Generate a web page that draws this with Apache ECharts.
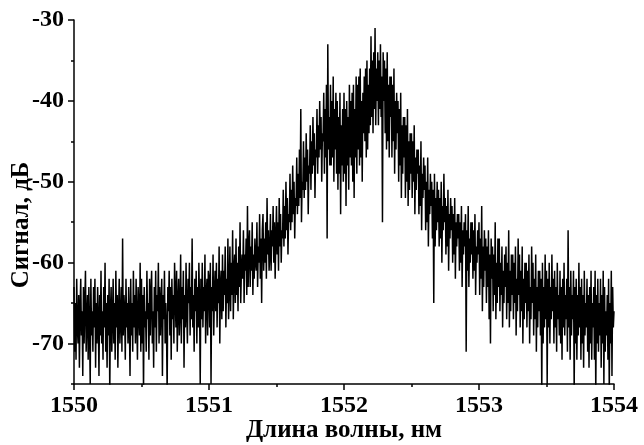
<!DOCTYPE html>
<html>
<head>
<meta charset="utf-8">
<script src="https://cdn.jsdelivr.net/npm/echarts@6/dist/echarts.min.js"></script>
<style>
html,body{margin:0;padding:0;background:#fff;}
#chart{width:644px;height:445px;}
</style>
</head>
<body>
<div id="chart"></div>
<script>
// Wavelength sampling (nm)
const wavelengthStart = 1550;
const wavelengthStep = 0.005;

// Signal values (dB), 0.5 nm per block
const signal1550_0 = [
-63,-71,-65,-72,-62,-68,-70,-64,-73,-66,
-62,-69,-66,-74,-63,-70,-65,-61,-71,-67,
-64,-72,-63,-68,-75,-62,-69,-66,-71,-63,
-68,-62,-73,-65,-70,-63,-67,-74,-64,-69,
-61,-70,-66,-72,-63,-68,-60,-71,-65,-73,
-64,-69,-62,-76,-66,-63,-71,-67,-62,-70,
-65,-72,-61,-68,-64,-73,-66,-62,-70,-67,
-63,-71,-57,-69,-64,-66,-72,-62,-68,-65,
-70,-63,-67,-74,-62,-69,-65,-71,-61,-68,
-64,-70,-62,-67,-72,-63,-66,-69,-60,-71];
const signal1550_5 = [
-62,-70,-64,-76,-63,-68,-66,-71,-61,-67,
-65,-72,-62,-69,-64,-61,-70,-66,-73,-63,
-68,-61,-71,-64,-66,-60,-70,-63,-69,-65,
-62,-74,-64,-67,-61,-70,-65,-68,-76,-63,
-66,-61,-69,-63,-72,-62,-67,-64,-70,-60,
-64,-68,-61,-71,-65,-62,-69,-66,-59,-70,
-63,-67,-61,-73,-64,-68,-60,-66,-70,-62,
-65,-60,-69,-63,-67,-57,-68,-64,-71,-62,
-66,-61,-70,-63,-68,-60,-65,-75,-62,-67,
-60,-68,-63,-66,-59,-70,-64,-62,-69,-61];
const signal1551_0 = [
-62,-68,-60,-75,-63,-66,-59,-69,-64,-61,
-66,-60,-68,-62,-65,-58,-70,-63,-61,-67,
-59,-66,-61,-64,-58,-68,-62,-65,-57,-67,
-63,-58,-66,-60,-64,-56,-67,-61,-59,-65,
-57,-64,-60,-66,-58,-63,-55,-65,-61,-59,
-62,-56,-65,-59,-61,-57,-64,-53,-63,-58,
-56,-63,-58,-61,-55,-64,-59,-62,-57,-60,
-61,-55,-63,-58,-60,-54,-62,-57,-65,-56,
-54,-61,-57,-60,-55,-62,-52,-59,-56,-61,
-59,-54,-61,-56,-58,-53,-60,-55,-62,-57];
const signal1551_5 = [
-53,-59,-55,-61,-52,-58,-54,-60,-56,-57,
-51,-58,-53,-57,-50,-56,-52,-59,-54,-55,
-49,-56,-51,-55,-48,-54,-50,-57,-52,-53,
-47,-54,-49,-53,-46,-52,-41,-55,-50,-51,
-45,-52,-47,-51,-44,-50,-46,-54,-48,-49,
-43,-51,-45,-49,-42,-48,-44,-52,-46,-47,
-41,-49,-43,-47,-40,-46,-42,-50,-44,-45,
-39,-49,-41,-47,-38,-57,-33,-46,-42,-48,
-38,-48,-40,-47,-37,-50,-41,-46,-39,-49,
-40,-51,-42,-49,-39,-54,-43,-48,-41,-50];
const signal1552_0 = [
-39,-49,-41,-53,-40,-48,-42,-51,-38,-47,
-40,-48,-39,-50,-38,-52,-41,-47,-37,-49,
-38,-46,-37,-48,-36,-47,-40,-50,-39,-44,
-37,-45,-36,-47,-35,-46,-38,-44,-36,-43,
-32,-42,-35,-44,-34,-41,-31,-43,-36,-40,
-34,-43,-35,-41,-33,-42,-37,-55,-34,-40,
-35,-44,-36,-46,-34,-45,-38,-47,-37,-42,
-37,-47,-38,-45,-36,-49,-40,-46,-39,-44,
-40,-50,-41,-48,-39,-52,-43,-49,-42,-47,
-42,-52,-43,-50,-41,-53,-45,-51,-44,-49];
const signal1552_5 = [
-44,-52,-45,-50,-43,-54,-47,-51,-46,-49,
-46,-54,-48,-53,-45,-56,-49,-52,-47,-51,
-48,-56,-50,-55,-47,-58,-51,-54,-49,-53,
-50,-57,-51,-65,-49,-58,-52,-56,-50,-55,
-51,-58,-52,-57,-50,-60,-53,-56,-49,-55,
-52,-59,-53,-58,-51,-61,-54,-57,-52,-56,
-53,-60,-54,-59,-52,-62,-55,-58,-54,-57,
-54,-61,-55,-60,-53,-63,-56,-59,-55,-58,
-54,-71,-56,-61,-53,-63,-57,-60,-55,-59,
-55,-62,-56,-61,-54,-64,-58,-60,-56,-59];
const signal1553_0 = [
-55,-64,-57,-62,-53,-66,-58,-63,-56,-61,
-57,-65,-58,-63,-56,-67,-59,-70,-57,-62,
-58,-66,-59,-64,-55,-67,-60,-65,-57,-63,
-57,-66,-60,-64,-58,-68,-61,-65,-59,-63,
-58,-67,-60,-65,-56,-68,-61,-66,-59,-64,
-59,-67,-60,-65,-58,-69,-62,-66,-57,-64,
-59,-68,-61,-66,-58,-70,-62,-67,-60,-65,
-60,-68,-61,-66,-59,-70,-63,-67,-58,-65,
-60,-69,-62,-67,-59,-71,-63,-68,-61,-66,
-61,-69,-62,-76,-60,-70,-63,-68,-59,-67];
const signal1553_5 = [
-61,-75,-62,-68,-60,-70,-63,-67,-59,-66,
-62,-70,-61,-68,-63,-71,-60,-67,-64,-69,
-61,-70,-63,-72,-62,-68,-60,-69,-64,-67,
-62,-71,-56,-68,-63,-72,-61,-69,-64,-67,
-61,-76,-63,-70,-62,-72,-64,-69,-60,-68,
-63,-72,-62,-70,-64,-73,-61,-69,-65,-68,
-62,-71,-64,-73,-63,-70,-61,-72,-65,-68,
-63,-72,-61,-76,-64,-70,-62,-71,-65,-69,
-62,-73,-64,-70,-61,-75,-63,-71,-66,-69,
-64,-72,-62,-76,-65,-70,-61,-74,-63,-68,
-66];

// Axis ticks
const xTicks = [1550, 1551, 1552, 1553, 1554];
const yMajorTicks = [-70, -60, -50, -40, -30];
const yMinorTicks = [-75, -65, -55, -45, -35];

const signal = [].concat(signal1550_0, signal1550_5, signal1551_0, signal1551_5,
  signal1552_0, signal1552_5, signal1553_0, signal1553_5);
const seriesData = signal.map((v, i) => [+(wavelengthStart + i * wavelengthStep).toFixed(3), v]);

const font = 'Liberation Serif, Times New Roman, serif';
const chart = echarts.init(document.getElementById('chart'), null, {renderer: 'canvas'});
chart.setOption({
  animation: false,
  backgroundColor: '#fff',
  grid: {left: 74, right: 30, top: 20, bottom: 61, containLabel: false, outerBoundsMode: 'none'},
  xAxis: {
    type: 'value', min: xTicks[0], max: xTicks[xTicks.length - 1], interval: 1,
    name: 'Длина волны, нм', nameLocation: 'middle', nameGap: 34, nameMoveOverlap: false,
    nameTextStyle: {fontFamily: font, fontWeight: 'bold', fontSize: 25, color: '#000'},
    axisLine: {onZero: false, lineStyle: {color: '#000', width: 1.5}},
    axisTick: {show: true, inside: false, length: 6, lineStyle: {color: '#000', width: 1.5}},
    minorTick: {show: true, splitNumber: 2, length: 3, lineStyle: {color: '#000', width: 1.5}},
    axisLabel: {fontFamily: font, fontWeight: 'bold', fontSize: 24, color: '#000', margin: 10,
      formatter: v => String(v)},
    splitLine: {show: false}
  },
  yAxis: [{
    type: 'value', min: -75, max: -30,
    name: 'Сигнал, дБ', nameLocation: 'middle', nameGap: 40, nameRotate: 90, nameMoveOverlap: false,
    nameTextStyle: {fontFamily: font, fontWeight: 'bold', fontSize: 25, color: '#000', padding: [0, 46, 0, 0]},
    axisLine: {show: true, onZero: false, lineStyle: {color: '#000', width: 1.5}},
    axisTick: {show: true, inside: false, length: 6, customValues: yMajorTicks, lineStyle: {color: '#000', width: 1.5}},
    axisLabel: {fontFamily: font, fontWeight: 'bold', fontSize: 24, color: '#000', margin: 10, customValues: yMajorTicks},
    splitLine: {show: false}
  }, {
    type: 'value', min: -75, max: -30, position: 'left',
    axisLine: {show: false},
    axisTick: {show: true, inside: false, length: 3, customValues: yMinorTicks, lineStyle: {color: '#000', width: 1.5}},
    axisLabel: {show: false},
    splitLine: {show: false}
  }],
  series: [{
    type: 'line', data: seriesData, showSymbol: false, symbol: 'none', clip: true,
    lineStyle: {color: '#000', width: 1.5}
  }]
});
</script>
</body>
</html>
